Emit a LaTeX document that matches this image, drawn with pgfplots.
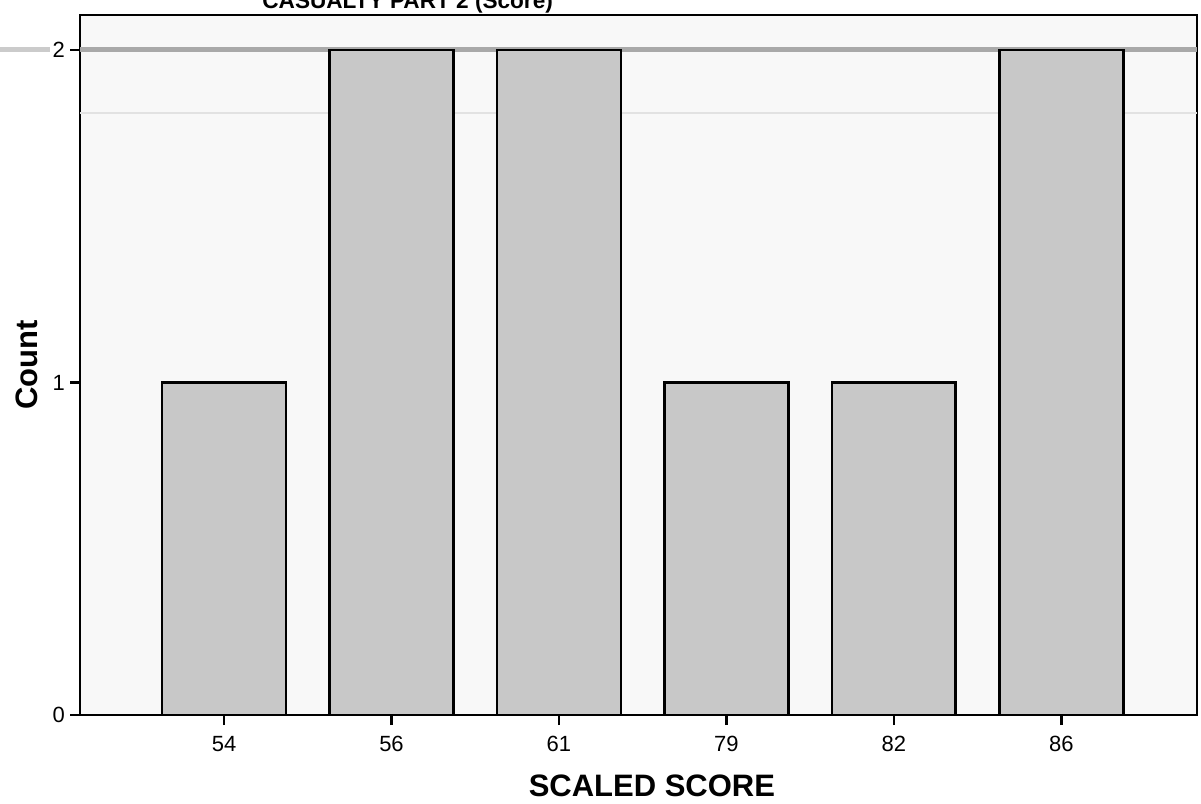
\documentclass[border=0pt]{standalone}
\usepackage{pgfplots}
\pgfplotsset{compat=1.18}
\usepackage{fontspec}
\setmainfont{Liberation Sans}
\definecolor{barfill}{HTML}{C8C8C8}
\definecolor{bgc}{HTML}{F8F8F8}
\definecolor{refline}{HTML}{A9A9A9}
\definecolor{faintline}{HTML}{E2E2E2}
\begin{document}
\begin{tikzpicture}
\begin{axis}[
  scale only axis,
  width=558.5pt, height=350pt,
  xmin=-0.86, xmax=5.81, ymin=0, ymax=2.105,
  axis background/.style={fill=bgc},
  axis line style={line width=1.4pt, black},
  xtick={0,1,2,3,4,5},
  xticklabels={54,56,61,79,82,86},
  ytick={0,1,2},
  xtick pos=bottom, ytick pos=left,
  tick align=outside,
  major tick length=5pt,
  tick style={black, line width=1.3pt},
  ticklabel style={font=\fontsize{11}{13}\selectfont},
  xticklabel style={yshift=-2pt},
  yticklabel style={xshift=1pt},
  /pgf/number format/assume math mode=true,
  xlabel={SCALED SCORE},
  ylabel={Count},
  label style={font=\fontsize{15.5}{18}\selectfont\bfseries},
  xlabel style={at={(axis description cs:0.512,-0.101)}, anchor=center},
  ylabel style={at={(axis description cs:-0.0474,0.5)}, anchor=center},
  clip=false,
]
\addplot[faintline, line width=0.8pt, no marks] coordinates {(-0.86,1.81) (5.81,1.81)};
\addplot[refline, line width=2.5pt, no marks] coordinates {(-0.86,2) (5.81,2)};
\addplot[refline!60, line width=2.5pt, no marks] coordinates {(-1.34,2) (-1.04,2)};
\addplot[ybar, bar width=0.74, fill=barfill, draw=black, line width=1.4pt]
  coordinates {(0,1) (1,2) (2,2) (3,1) (4,1) (5,2)};
\end{axis}
\node[anchor=base west, font=\fontsize{11.3}{13}\selectfont\bfseries, inner sep=0pt]
  at ([shift={(91pt,3.2pt)}]current axis.north west) {CASUALTY PART 2 (Score)};
\pgfresetboundingbox
\path ([shift={(-40pt,-44pt)}]current axis.south west) rectangle ([shift={(2pt,7.5pt)}]current axis.north east);
\end{tikzpicture}
\end{document}
